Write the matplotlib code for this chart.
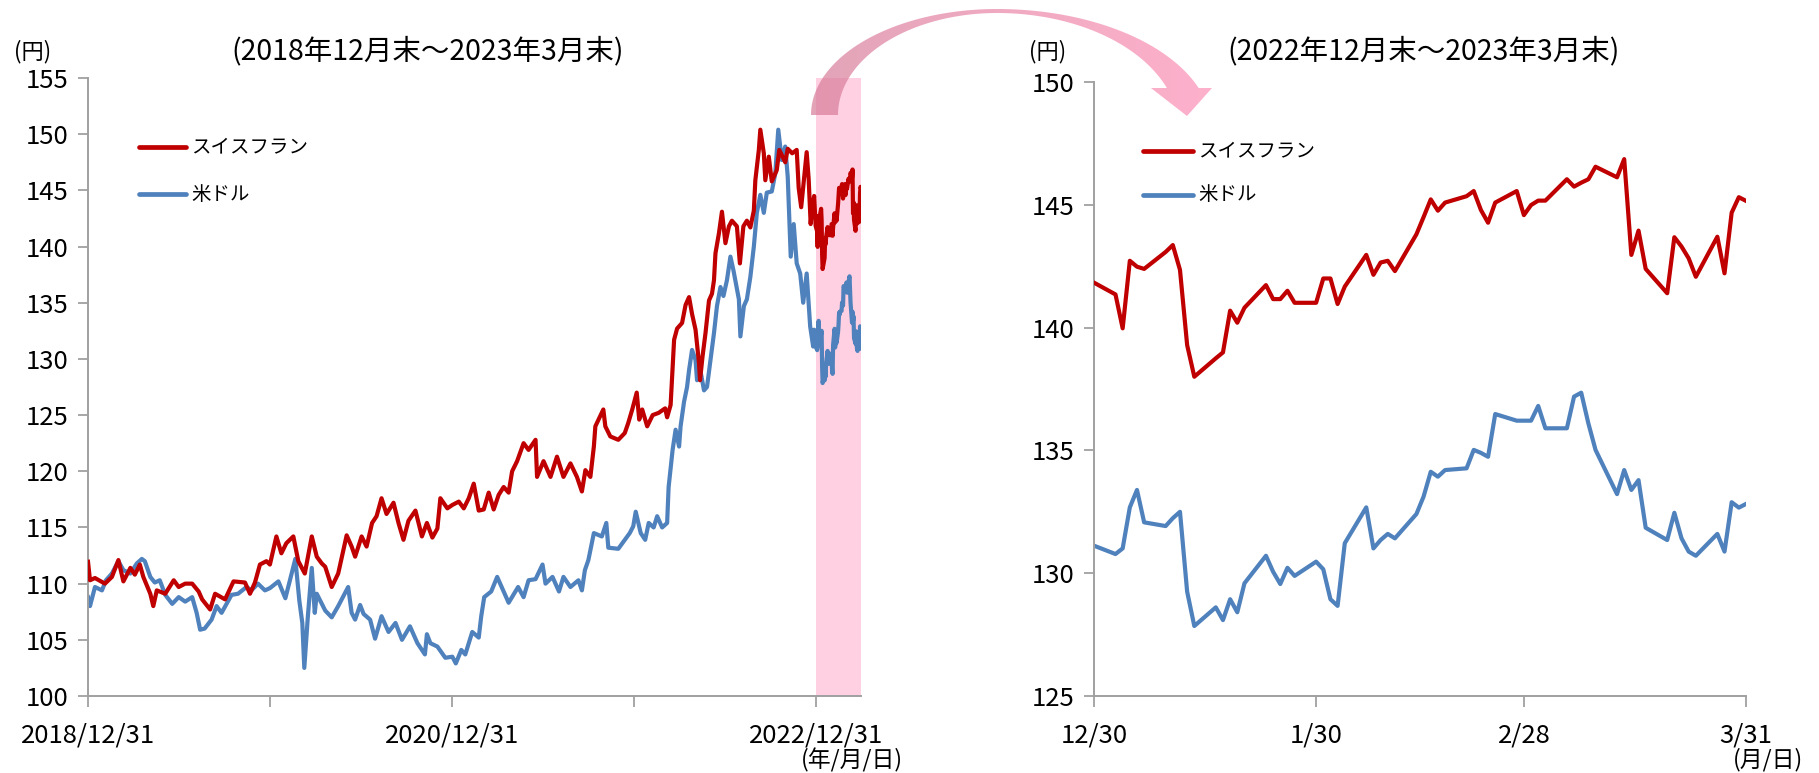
import matplotlib
matplotlib.use('Agg')
import matplotlib.pyplot as plt
import numpy as np
import pandas as pd
from matplotlib.lines import Line2D
from matplotlib.patches import Polygon

plt.rcParams['font.family'] = ['Noto Sans CJK JP', 'DejaVu Sans']

# ---------------- data ----------------
chf_hist_dates = [
    "2018-12-31", "2019-01-04", "2019-01-14", "2019-02-03", "2019-02-17", "2019-03-02", "2019-03-12",
    "2019-03-26", "2019-04-04", "2019-04-14", "2019-04-21", "2019-05-05", "2019-05-11", "2019-05-18",
    "2019-06-04", "2019-06-21", "2019-07-01", "2019-07-14", "2019-07-28", "2019-08-10", "2019-08-17",
    "2019-09-02", "2019-09-12", "2019-10-02", "2019-10-19", "2019-11-11", "2019-11-21", "2019-12-01",
    "2019-12-11", "2019-12-24", "2019-12-31", "2020-01-13", "2020-01-23", "2020-02-02", "2020-02-16",
    "2020-02-26", "2020-03-10", "2020-03-24", "2020-04-03", "2020-04-13", "2020-04-20", "2020-05-03",
    "2020-05-16", "2020-06-02", "2020-06-12", "2020-06-19", "2020-07-02", "2020-07-12", "2020-07-23",
    "2020-08-01", "2020-08-11", "2020-08-21", "2020-09-04", "2020-09-14", "2020-09-24", "2020-10-04",
    "2020-10-18", "2020-10-31", "2020-11-10", "2020-11-21", "2020-12-01", "2020-12-07", "2020-12-21",
    "2020-12-31", "2021-01-13", "2021-01-23", "2021-02-02", "2021-02-12", "2021-02-22", "2021-03-04",
    "2021-03-14", "2021-03-24", "2021-04-03", "2021-04-13", "2021-04-23", "2021-04-30", "2021-05-10",
    "2021-05-23", "2021-06-02", "2021-06-16", "2021-06-19", "2021-07-02", "2021-07-16", "2021-07-29",
    "2021-08-11", "2021-08-25", "2021-09-07", "2021-09-17", "2021-09-24", "2021-10-04", "2021-10-11",
    "2021-10-14", "2021-10-30", "2021-11-03", "2021-11-13", "2021-11-29", "2021-12-12", "2021-12-19",
    "2021-12-27", "2022-01-05", "2022-01-10", "2022-01-16", "2022-01-26", "2022-02-06", "2022-02-18",
    "2022-03-03", "2022-03-07", "2022-03-14", "2022-03-21", "2022-03-27", "2022-04-06", "2022-04-13",
    "2022-04-20", "2022-04-26", "2022-05-03", "2022-05-10", "2022-05-12", "2022-05-17", "2022-05-23",
    "2022-05-30", "2022-06-05", "2022-06-09", "2022-06-12", "2022-06-19", "2022-06-25", "2022-07-02",
    "2022-07-09", "2022-07-15", "2022-07-25", "2022-07-31", "2022-08-07", "2022-08-14", "2022-08-21",
    "2022-08-28", "2022-08-31", "2022-09-07", "2022-09-10", "2022-09-17", "2022-09-20", "2022-09-27",
    "2022-10-03", "2022-10-13", "2022-10-18", "2022-10-30", "2022-11-04", "2022-11-13", "2022-11-22",
    "2022-11-26", "2022-12-01", "2022-12-12", "2022-12-16", "2022-12-20", "2022-12-23", "2022-12-27",
]
chf_hist = [
    111.95, 110.3, 110.5, 110.0, 110.6, 112.1, 110.2,
    111.4, 110.8, 111.7, 110.6, 109.1, 108.0, 109.4,
    109.1, 110.3, 109.7, 110.0, 110.0, 109.3, 108.6,
    107.7, 109.1, 108.6, 110.2, 110.1, 109.1, 110.1,
    111.7, 112.0, 111.7, 114.2, 112.7, 113.6, 114.2,
    112.0, 110.9, 114.2, 112.4, 111.8, 111.5, 109.7,
    110.9, 114.3, 113.3, 112.4, 114.2, 113.3, 115.4,
    116.0, 117.6, 116.2, 117.2, 115.4, 113.9, 115.6,
    116.5, 114.2, 115.4, 114.1, 114.9, 117.6, 116.7,
    117.0, 117.3, 116.7, 117.6, 118.9, 116.5, 116.6,
    118.1, 116.6, 117.9, 118.6, 118.1, 120.0, 120.9,
    122.5, 121.9, 122.8, 119.5, 120.9, 119.5, 121.3,
    119.5, 120.7, 119.5, 118.2, 120.1, 119.5, 122.2,
    124.0, 125.5, 124.0, 123.1, 122.8, 123.4, 124.3,
    125.5, 127.0, 124.6, 125.5, 124.0, 125.0, 125.2,
    125.6, 124.8, 125.9, 131.7, 132.7, 133.2, 134.8,
    135.5, 134.0, 132.6, 129.6, 128.1, 130.2, 132.3,
    135.2, 135.8, 137.0, 139.4, 141.2, 143.1, 140.3,
    141.8, 142.3, 141.8, 138.5, 141.8, 142.3, 141.7,
    143.2, 145.9, 148.6, 150.4, 148.3, 145.9, 148.0,
    145.8, 146.8, 148.6, 147.5, 148.7, 148.3, 148.6,
    145.2, 143.5, 148.4, 146.0, 142.0, 143.5, 144.5,
]

usd_hist_dates = [
    "2018-12-31", "2019-01-04", "2019-01-14", "2019-01-28", "2019-02-05", "2019-02-17", "2019-03-02",
    "2019-03-12", "2019-03-26", "2019-04-08", "2019-04-18", "2019-04-24", "2019-05-05", "2019-05-14",
    "2019-05-24", "2019-06-04", "2019-06-18", "2019-07-01", "2019-07-14", "2019-07-28", "2019-08-06",
    "2019-08-13", "2019-08-22", "2019-09-05", "2019-09-15", "2019-09-25", "2019-10-05", "2019-10-15",
    "2019-10-28", "2019-11-14", "2019-11-24", "2019-12-07", "2019-12-21", "2019-12-31", "2020-01-17",
    "2020-01-31", "2020-02-20", "2020-02-28", "2020-03-05", "2020-03-09", "2020-03-16", "2020-03-24",
    "2020-03-30", "2020-04-03", "2020-04-20", "2020-05-03", "2020-05-16", "2020-06-05", "2020-06-12",
    "2020-06-19", "2020-06-29", "2020-07-06", "2020-07-19", "2020-07-29", "2020-08-11", "2020-08-25",
    "2020-09-08", "2020-09-21", "2020-10-07", "2020-10-22", "2020-11-06", "2020-11-10", "2020-11-17",
    "2020-12-01", "2020-12-17", "2020-12-31", "2021-01-07", "2021-01-18", "2021-01-26", "2021-02-09",
    "2021-02-22", "2021-02-27", "2021-03-05", "2021-03-19", "2021-03-31", "2021-04-09", "2021-04-23",
    "2021-05-12", "2021-05-23", "2021-06-02", "2021-06-16", "2021-06-30", "2021-07-06", "2021-07-20",
    "2021-08-02", "2021-08-11", "2021-08-25", "2021-09-10", "2021-09-17", "2021-09-23", "2021-09-30",
    "2021-10-11", "2021-10-27", "2021-11-05", "2021-11-09", "2021-11-29", "2021-12-12", "2021-12-22",
    "2021-12-29", "2022-01-03", "2022-01-13", "2022-01-22", "2022-01-29", "2022-02-08", "2022-02-15",
    "2022-02-25", "2022-03-07", "2022-03-10", "2022-03-18", "2022-03-24", "2022-03-31", "2022-04-03",
    "2022-04-10", "2022-04-16", "2022-04-20", "2022-04-26", "2022-05-03", "2022-05-06", "2022-05-13",
    "2022-05-20", "2022-05-26", "2022-06-02", "2022-06-09", "2022-06-15", "2022-06-22", "2022-06-28",
    "2022-07-05", "2022-07-12", "2022-07-18", "2022-07-29", "2022-08-01", "2022-08-08", "2022-08-14",
    "2022-08-21", "2022-08-28", "2022-09-03", "2022-09-10", "2022-09-17", "2022-09-23", "2022-10-03",
    "2022-10-10", "2022-10-16", "2022-10-23", "2022-10-30", "2022-11-04", "2022-11-10", "2022-11-16",
    "2022-11-22", "2022-11-29", "2022-12-05", "2022-12-12", "2022-12-19", "2022-12-25", "2022-12-27",
]
usd_hist = [
    108.8, 108.0, 109.7, 109.4, 110.3, 110.9, 112.0,
    111.2, 110.9, 111.8, 112.2, 112.0, 110.6, 110.1,
    110.3, 109.0, 108.2, 108.8, 108.4, 108.8, 107.4,
    105.9, 106.0, 106.8, 108.0, 107.4, 108.2, 109.0,
    109.1, 109.7, 109.4, 110.0, 109.4, 109.6, 110.2,
    108.7, 112.2, 108.5, 106.5, 102.5, 107.0, 111.4,
    107.4, 109.1, 107.6, 107.0, 108.0, 109.7, 107.4,
    106.8, 108.1, 107.3, 106.8, 105.1, 107.1, 105.7,
    106.5, 105.0, 106.2, 104.7, 103.7, 105.5, 104.7,
    104.4, 103.4, 103.5, 102.9, 104.1, 103.7, 105.7,
    105.2, 107.1, 108.8, 109.3, 110.6, 109.7, 108.3,
    109.7, 108.8, 110.3, 110.4, 111.7, 110.0, 110.6,
    109.3, 110.6, 109.7, 110.3, 109.4, 111.2, 112.1,
    114.5, 114.2, 115.4, 113.2, 113.1, 113.9, 114.5,
    115.1, 116.4, 114.5, 113.9, 115.4, 115.0, 116.0,
    115.0, 115.4, 118.6, 121.9, 123.7, 122.2, 124.0,
    126.2, 127.5, 129.0, 130.8, 129.9, 128.1, 128.9,
    127.2, 127.5, 129.9, 132.3, 134.7, 136.4, 135.6,
    137.0, 139.1, 137.9, 135.3, 132.0, 134.7, 135.3,
    137.3, 140.0, 143.0, 144.6, 143.0, 144.8, 144.9,
    146.5, 150.4, 147.7, 148.9, 146.2, 139.1, 142.0,
    138.5, 137.6, 135.0, 137.6, 132.9, 131.1, 132.6,
]

recent_dates = [
    "2022-12-30", "2023-01-02", "2023-01-03", "2023-01-04", "2023-01-05", "2023-01-06", "2023-01-09",
    "2023-01-10", "2023-01-11", "2023-01-12", "2023-01-13", "2023-01-16", "2023-01-17", "2023-01-18",
    "2023-01-19", "2023-01-20", "2023-01-23", "2023-01-24", "2023-01-25", "2023-01-26", "2023-01-27",
    "2023-01-30", "2023-01-31", "2023-02-01", "2023-02-02", "2023-02-03", "2023-02-06", "2023-02-07",
    "2023-02-08", "2023-02-09", "2023-02-10", "2023-02-13", "2023-02-14", "2023-02-15", "2023-02-16",
    "2023-02-17", "2023-02-20", "2023-02-21", "2023-02-22", "2023-02-23", "2023-02-24", "2023-02-27",
    "2023-02-28", "2023-03-01", "2023-03-02", "2023-03-03", "2023-03-06", "2023-03-07", "2023-03-08",
    "2023-03-09", "2023-03-10", "2023-03-13", "2023-03-14", "2023-03-15", "2023-03-16", "2023-03-17",
    "2023-03-20", "2023-03-21", "2023-03-22", "2023-03-23", "2023-03-24", "2023-03-27", "2023-03-28",
    "2023-03-29", "2023-03-30", "2023-03-31",
]
chf_recent = [
    141.83, 141.35, 139.97, 142.72, 142.48, 142.39, 143.08,
    143.36, 142.35, 139.29, 138.00, 138.75, 138.99, 140.69,
    140.20, 140.81, 141.73, 141.16, 141.16, 141.50, 141.01,
    141.01, 142.00, 142.00, 140.96, 141.67, 142.96, 142.15,
    142.65, 142.72, 142.30, 143.80, 144.50, 145.22, 144.76,
    145.09, 145.35, 145.56, 144.79, 144.27, 145.09, 145.56,
    144.58, 144.99, 145.17, 145.17, 146.04, 145.74, 145.90,
    146.04, 146.55, 146.12, 146.86, 142.96, 143.95, 142.39,
    141.40, 143.68, 143.30, 142.82, 142.07, 143.70, 142.21,
    144.68, 145.31, 145.16,
]
usd_recent = [
    131.12, 130.78, 131.01, 132.68, 133.39, 132.07, 131.92,
    132.24, 132.50, 129.25, 127.85, 128.61, 128.09, 128.94,
    128.41, 129.59, 130.71, 130.06, 129.56, 130.22, 129.89,
    130.47, 130.16, 128.94, 128.67, 131.22, 132.68, 131.01,
    131.35, 131.60, 131.42, 132.41, 133.12, 134.13, 133.93,
    134.20, 134.27, 135.02, 134.90, 134.74, 136.48, 136.21,
    136.21, 136.21, 136.81, 135.90, 135.90, 137.19, 137.35,
    136.10, 135.02, 133.22, 134.20, 133.39, 133.79, 131.85,
    131.35, 132.46, 131.42, 130.88, 130.71, 131.60, 130.88,
    132.89, 132.67, 132.82,
]

series_names = ["スイスフラン", "米ドル"]
left_xticks = ["2018-12-31", "2020-12-31", "2022-12-31"]
left_xticklabels = ["2018/12/31", "2020/12/31", "2022/12/31"]
left_minor = ["2019-12-31", "2021-12-31"]
right_xticks = ["2022-12-30", "2023-01-30", "2023-02-28", "2023-03-31"]
right_xticklabels = ["12/30", "1/30", "2/28", "3/31"]

# ---------------- figure ----------------
W, H = 1819, 773
fig = plt.figure(figsize=(W / 100, H / 100), dpi=100)


def fx(x):
    return x / W


def fy(y):
    return 1 - y / H


RED = '#C00000'
BLUE = '#4F81BD'
GRAY = '#A0A0A0'
PINK = '#FFD0E1'
LW = 3.0

d = pd.to_datetime

chf_left_x = list(d(chf_hist_dates)) + list(d(recent_dates))
chf_left_y = list(chf_hist) + list(chf_recent)
usd_left_x = list(d(usd_hist_dates)) + list(d(recent_dates))
usd_left_y = list(usd_hist) + list(usd_recent)


def style_axes(ax):
    for s in ['top', 'right']:
        ax.spines[s].set_visible(False)
    for s in ['left', 'bottom']:
        ax.spines[s].set_color(GRAY)
        ax.spines[s].set_linewidth(1.4)
    ax.tick_params(axis='both', which='both', direction='out', color=GRAY,
                   width=1.3, labelsize=18.5, labelcolor='#000000')
    ax.tick_params(axis='y', length=7, pad=7)
    ax.tick_params(axis='x', which='both', length=8, pad=11)
    ax.set_facecolor('none')


# left panel
ax1 = fig.add_axes([fx(88), fy(696), fx(861) - fx(88), fy(78) - fy(696)])
ax1.axvspan(d("2022-12-31"), d("2023-03-31"), color=PINK, lw=0, zorder=0)
ax1.plot(usd_left_x, usd_left_y, color=BLUE, lw=LW, solid_joinstyle='round', zorder=2)
ax1.plot(chf_left_x, chf_left_y, color=RED, lw=LW, solid_joinstyle='round', zorder=3)
ax1.set_xlim(d("2018-12-31"), d("2023-03-31"))
ax1.set_ylim(100, 155)
ax1.set_yticks(np.arange(100, 156, 5))
ax1.set_xticks(d(left_xticks))
ax1.set_xticklabels(left_xticklabels)
ax1.set_xticks(d(left_minor), minor=True)
style_axes(ax1)

# right panel
ax2 = fig.add_axes([fx(1094), fy(696), fx(1746) - fx(1094), fy(82) - fy(696)])
rx = d(recent_dates)
ax2.plot(rx, usd_recent, color=BLUE, lw=LW, solid_joinstyle='round', zorder=2)
ax2.plot(rx, chf_recent, color=RED, lw=LW, solid_joinstyle='round', zorder=3)
ax2.set_xlim(d("2022-12-30"), d("2023-03-31"))
ax2.set_ylim(125, 150)
ax2.set_yticks(np.arange(125, 151, 5))
ax2.set_xticks(d(right_xticks))
ax2.set_xticklabels(right_xticklabels)
ax2.xaxis.set_minor_locator(matplotlib.ticker.NullLocator())
style_axes(ax2)

# texts
fig.text(fx(428), fy(51), "(2018年12月末～2023年3月末)", ha='center', va='center', fontsize=20.5)
fig.text(fx(1424), fy(51), "(2022年12月末～2023年3月末)", ha='center', va='center', fontsize=20.5)
fig.text(fx(33), fy(52), "(円)", ha='center', va='center', fontsize=16)
fig.text(fx(1048), fy(52), "(円)", ha='center', va='center', fontsize=16)
fig.text(fx(852), fy(760), "(年/月/日)", ha='center', va='center', fontsize=16.5)
fig.text(fx(1768), fy(760), "(月/日)", ha='center', va='center', fontsize=16.5)

# legends
for (x0, x1, ys) in [(139, 186, (147, 194)), (1143, 1193, (151, 195))]:
    for name, col, yy in zip(series_names, [RED, BLUE], ys):
        fig.add_artist(Line2D([fx(x0), fx(x1)], [fy(yy), fy(yy)], transform=fig.transFigure,
                              color=col, lw=3.4, solid_capstyle='round'))
        fig.text(fx(x1 + 5), fy(yy), name, ha='left', va='center', fontsize=14)

# curved arrow (overlay in pixel coordinates)
ax0 = fig.add_axes([0, 0, 1, 1])
ax0.set_xlim(0, W)
ax0.set_ylim(H, 0)
ax0.axis('off')


def arc(cx, cy, rx_, ry_, t0, t1, n=60):
    t = np.linspace(t0, t1, n)
    return np.column_stack([cx + rx_ * np.cos(t), cy - ry_ * np.sin(t)])


outer = np.vstack([arc(997, 115, 186, 106, np.pi, np.pi / 2),
                   arc(997, 130, 215, 121, np.pi / 2, 0.354)])
inner = np.vstack([arc(997, 115, 159, 102, np.pi, np.pi / 2),
                   arc(997, 130, 182, 117, np.pi / 2, 0.367)])
head = np.array([[1212, 88], [1187, 116], [1151, 88]])
poly = np.vstack([outer, head, inner[::-1]])
clip = Polygon(poly, closed=True, transform=ax0.transData, facecolor='none', edgecolor='none')
ax0.add_patch(clip)
c_left = np.array([212, 120, 150]) / 255
c_right = np.array([255, 140, 180]) / 255
tt = np.linspace(0, 1, 256)[None, :, None]
grad = (c_left[None, None, :] * (1 - tt) + c_right[None, None, :] * tt)
grad = np.repeat(grad, 4, axis=0)
im = ax0.imshow(grad, extent=[800, 1220, 125, 0], aspect='auto', alpha=0.68,
                interpolation='bilinear', origin='upper')
im.set_clip_path(clip)
ax0.set_xlim(0, W)
ax0.set_ylim(H, 0)

fig.savefig("out.png", dpi=100, facecolor='white')
